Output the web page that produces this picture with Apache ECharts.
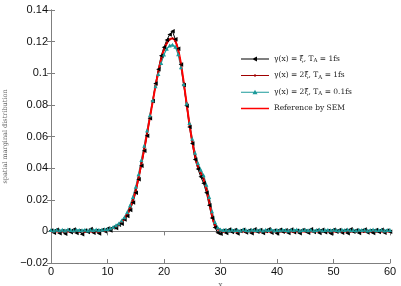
<!DOCTYPE html>
<html><head><meta charset="utf-8">
<script src="https://cdn.jsdelivr.net/npm/echarts@6/dist/echarts.min.js"></script>
<style>html,body{margin:0;padding:0;background:#fff}#c{width:401px;height:286px}</style>
</head><body><div id="c"></div>
<script>
// x grid: 0..60 step 0.5
const xs = [];
for (let i = 0; i <= 120; i++) xs.push(i * 0.5);

const names = ['g1', 'g2', 'g3', 'ref'];
const xTicks = [0, 10, 20, 30, 40, 50, 60];
const yTicks = [-0.02, 0, 0.02, 0.04, 0.06, 0.08, 0.1, 0.12, 0.14];

const blackVals = [
 0.0005,-0.0008,0.001,-0.0012,0.0003,-0.0015,0.0008,-0.0005,0.0012,-0.001,
 0.0002,-0.0018,0.0006,-0.0004,0.0015,-0.0009,0.0004,-0.0013,0.0009,0.0001,
 0.0018,0.0005,0.0025,0.0022,0.0042,0.0048,0.0075,0.0098,0.0135,0.0182,
 0.0245,0.033,0.0415,0.051,0.0605,0.0715,0.0825,0.0935,0.1025,0.111,
 0.1165,0.121,0.1245,0.1265,0.1215,0.1155,0.1055,0.0925,0.0795,0.066,
 0.0555,0.0455,0.0395,0.0345,0.0305,0.0245,0.0165,0.0085,0.0025,-0.0008,
 -0.0015,0.0006,-0.001,0.0012,-0.0004,0.0009,-0.0013,0.0003,0.0011,-0.0007,
 0.0005,-0.0012,0.0014,-0.0003,0.0008,-0.0011,0.0002,0.0013,-0.0009,0.0006,
 -0.0014,0.001,-0.0002,0.0007,-0.001,0.0012,-0.0005,0.0004,-0.0012,0.0009,
 0.0001,-0.0008,0.0013,-0.0004,0.0006,-0.0011,0.001,-0.0006,0.0003,-0.0013,
 0.0011,-0.0002,0.0008,-0.0009,0.0005,-0.0012,0.0014,-0.0003,0.0007,-0.001,
 0.0004,0.0012,-0.0007,0.0002,-0.0011,0.0009,-0.0004,0.001,-0.0008,0.0006,
 -0.0002
];
const darkRedVals = [
 0.0002,-0.0003,0.0004,-0.0002,0.0003,-0.0004,0.0002,0.0001,-0.0003,0.0004,
 -0.0001,0.0003,-0.0004,0.0002,0.0001,-0.0002,0.0004,-0.0003,0.0002,0.0003,
 0.0012,0.0016,0.0021,0.0029,0.0042,0.0058,0.0081,0.0108,0.0152,0.0198,
 0.0262,0.0338,0.0432,0.0522,0.0618,0.0722,0.0818,0.0922,0.1008,0.1092,
 0.1148,0.1192,0.1212,0.1222,0.1202,0.1148,0.1062,0.0938,0.0812,0.0682,
 0.0572,0.0478,0.0412,0.0368,0.0332,0.0268,0.0192,0.0098,0.0042,0.0012,
 0.0003,-0.0003,0.0004,-0.0002,0.0003,0.0001,-0.0004,0.0002,0.0003,-0.0002,
 0.0004,-0.0003,0.0001,0.0003,-0.0002,0.0004,-0.0001,0.0002,-0.0003,0.0003,
 0.0001,-0.0002,0.0004,-0.0003,0.0002,0.0001,-0.0004,0.0003,-0.0001,0.0002,
 0.0004,-0.0002,0.0001,-0.0003,0.0003,0.0002,-0.0004,0.0001,0.0003,-0.0002,
 0.0002,-0.0001,0.0004,-0.0003,0.0001,0.0003,-0.0002,0.0002,-0.0004,0.0003,
 0.0001,-0.0002,0.0003,-0.0001,0.0004,-0.0003,0.0002,0.0001,-0.0002,0.0003,
 0.0001
];
const tealVals = [
 0.0009,0.0006,0.0011,0.0007,0.001,0.0005,0.0012,0.0008,0.0006,0.001,
 0.0009,0.0007,0.0011,0.0006,0.001,0.0008,0.0012,0.0009,0.0011,0.0013,
 0.0015,0.002,0.0028,0.0038,0.005,0.0068,0.009,0.0122,0.0165,0.0218,
 0.0282,0.0362,0.0452,0.0542,0.0638,0.0735,0.083,0.0918,0.0995,0.1065,
 0.1118,0.1155,0.1175,0.118,0.1168,0.112,0.1038,0.093,0.0808,0.0685,
 0.0585,0.0498,0.0432,0.039,0.0355,0.0295,0.0218,0.0128,0.006,0.0025,
 0.0012,0.0008,0.001,0.0006,0.0011,0.0007,0.0009,0.0005,0.0012,0.0008,
 0.0006,0.001,0.0009,0.0007,0.0011,0.0005,0.001,0.0008,0.0012,0.0006,
 0.0009,0.0007,0.0011,0.0008,0.0005,0.001,0.0009,0.0012,0.0006,0.0008,
 0.001,0.0007,0.0011,0.0006,0.0009,0.0012,0.0005,0.0008,0.001,0.0007,
 0.0011,0.0009,0.0006,0.001,0.0008,0.0012,0.0007,0.0009,0.0005,0.0011,
 0.0008,0.001,0.0006,0.0009,0.0012,0.0007,0.0008,0.001,0.0006,0.0009,
 0.0008
];
const refVals = [
 0,0,0,0,0,0,0,0,0,0,
 0,0,0,0,0,0,0,0.0002,0.0004,0.0007,
 0.001,0.0013,0.002,0.003,0.004,0.006,0.008,0.011,0.015,0.02,
 0.026,0.034,0.043,0.052,0.062,0.072,0.082,0.092,0.101,0.109,
 0.115,0.119,0.1215,0.122,0.1205,0.115,0.106,0.094,0.081,0.068,
 0.057,0.048,0.041,0.037,0.033,0.027,0.019,0.01,0.004,0.0015,
 0.0005,0,0,0,0,0,0,0,0,0,
 0,0,0,0,0,0,0,0,0,0,
 0,0,0,0,0,0,0,0,0,0,
 0,0,0,0,0,0,0,0,0,0,
 0,0,0,0,0,0,0,0,0,0,
 0,0,0,0,0,0,0,0,0,0,
 0
];

const pair = v => xs.map((x, i) => [x, v[i]]);
const legendRich = {
  g1: '{m|γ(x) = ξ\u0303, T}{s|A}{m| = 1fs}',
  g2: '{m|γ(x) = 2ξ\u0303, T}{s|A}{m| = 1fs}',
  g3: '{m|γ(x) = 2ξ\u0303, T}{s|A}{m| = 0.1fs}',
  ref: '{m|Reference by SEM}'
};
const serif = 'DejaVu Serif, Liberation Serif, serif';
const axisCol = '#7f7f7f';
const fmtY = v => { const r = +v.toFixed(2); return r < 0 ? '\u2212' + Math.abs(r) : String(r); };
// legend glyphs: thin line + small marker, drawn in a 28x6 box
const iconTri = 'path://M0,2.5L28,2.5L28,3.5L0,3.5Z M11,3L16,0.5L16,5.5Z';
const iconDot = 'path://M0,2.5L28,2.5L28,3.5L0,3.5Z M13,2L15,2L15,4L13,4Z M0,0L0.01,0L0.01,0.01Z M0,6L0.01,6L0.01,5.99Z';
const iconUp = 'path://M0,2.5L28,2.5L28,3.5L0,3.5Z M11.5,5L14,0.5L16.5,5Z';
const iconLine = 'path://M0,2.2L28,2.2L28,3.8L0,3.8Z M0,0L0.01,0L0.01,0.01Z M0,6L0.01,6L0.01,5.99Z';

const chart = echarts.init(document.getElementById('c'));
chart.setOption({
  animation: false,
  backgroundColor: '#fff',
  grid: { left: 51, right: 11, top: 10, bottom: 23, outerBoundsMode: 'none', containLabel: false },
  legend: {
    left: 236, top: 50, orient: 'vertical', itemWidth: 28, itemHeight: 6, itemGap: 7.5,
    data: [
      { name: 'g1', icon: iconTri },
      { name: 'g2', icon: iconDot },
      { name: 'g3', icon: iconUp },
      { name: 'ref', icon: iconLine }
    ],
    formatter: n => legendRich[n],
    textStyle: {
      rich: {
        m: { fontFamily: serif, fontSize: 7.5, color: '#222' },
        s: { fontFamily: serif, fontSize: 5.5, color: '#222', padding: [4, 0, 0, 0] }
      }
    }
  },
  xAxis: [{
    type: 'value', min: 0, max: 60, interval: 10,
    name: 'x', nameLocation: 'middle', nameGap: 13,
    nameTextStyle: { fontFamily: serif, fontSize: 7, color: '#555' },
    axisLine: { onZero: false, lineStyle: { color: axisCol } },
    axisTick: { inside: true, length: 4, lineStyle: { color: axisCol } },
    axisLabel: { fontFamily: 'Liberation Sans, Arial, sans-serif', fontSize: 11, color: '#111', margin: 3 },
    splitLine: { show: false }
  }, {
    type: 'value', position: 'top', min: 0, max: 60, interval: 10,
    axisLine: { lineStyle: { color: axisCol } },
    axisTick: { inside: true, length: 4, lineStyle: { color: axisCol } },
    axisLabel: { show: false }, splitLine: { show: false }
  }],
  yAxis: [{
    type: 'value', min: -0.02, max: 0.14, interval: 0.02,
    name: 'spatial marginal distribution', nameLocation: 'middle', nameGap: 41, nameRotate: 90,
    nameTextStyle: { fontFamily: serif, fontSize: 6.5, color: '#666' },
    axisLine: { show: true, onZero: false, lineStyle: { color: axisCol } },
    axisTick: { show: true, inside: true, length: 4, lineStyle: { color: axisCol } },
    axisLabel: { formatter: fmtY, fontFamily: 'Liberation Sans, Arial, sans-serif', fontSize: 11, color: '#111', margin: 3 },
    splitLine: { show: false }
  }, {
    type: 'value', position: 'right', min: -0.02, max: 0.14, interval: 0.02,
    axisLine: { show: true, lineStyle: { color: axisCol } },
    axisTick: { show: true, inside: true, length: 4, lineStyle: { color: axisCol } },
    axisLabel: { show: false }, splitLine: { show: false }
  }],
  series: [
    { name: 'g1', type: 'line', data: pair(blackVals), symbol: 'triangle', symbolRotate: 90, symbolSize: 4.5,
      showAllSymbol: true, color: '#000', lineStyle: { width: 1, color: '#000' }, itemStyle: { color: '#000' } },
    { name: 'g2', type: 'line', data: pair(darkRedVals), symbol: 'circle', symbolSize: 2,
      showAllSymbol: true, color: '#a00000', lineStyle: { width: 1, color: '#a00000' }, itemStyle: { color: '#a00000' } },
    { name: 'g3', type: 'line', data: pair(tealVals), symbol: 'triangle', symbolSize: 4,
      showAllSymbol: true, color: '#1b9a9a', lineStyle: { width: 1.2, color: '#1b9a9a' }, itemStyle: { color: '#1b9a9a' } },
    { name: 'ref', type: 'line', data: pair(refVals), symbol: 'none', smooth: 0.3,
      color: '#ff0000', lineStyle: { width: 2, color: '#f00' } }
  ]
});
</script></body></html>
